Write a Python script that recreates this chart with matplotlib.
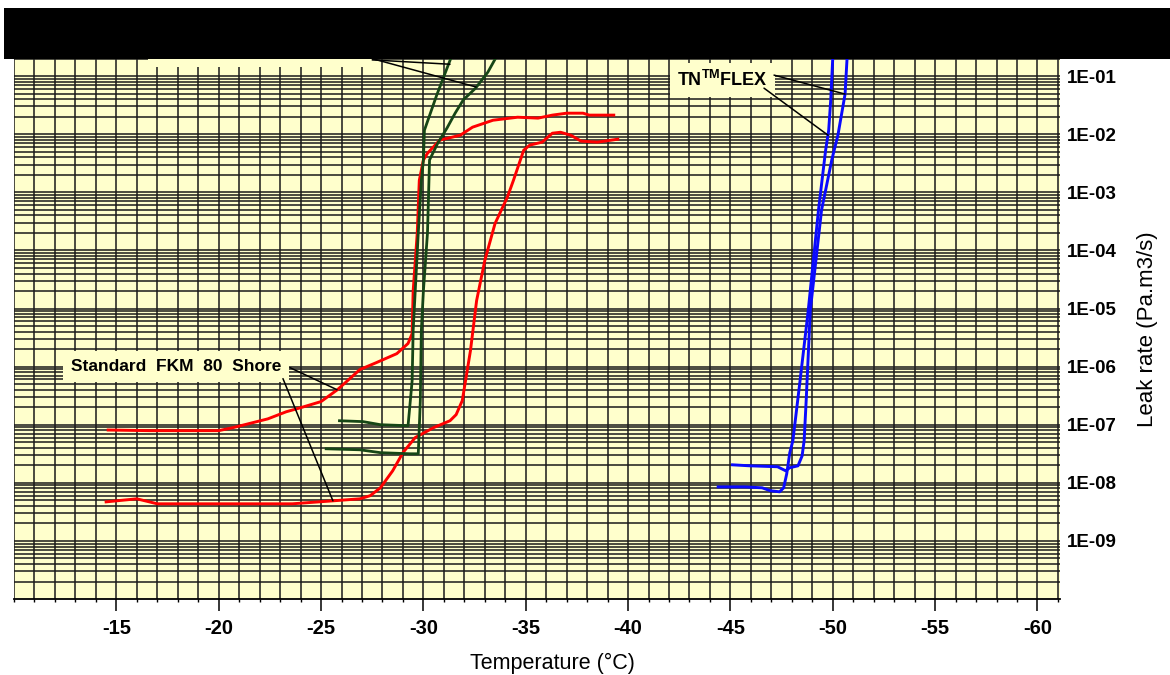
import numpy as np
import matplotlib.pyplot as plt
from matplotlib.patches import Rectangle
from matplotlib.ticker import MultipleLocator, LogLocator, NullFormatter

plt.rcParams['font.family'] = ['Liberation Sans', 'DejaVu Sans']
plt.rcParams['axes.unicode_minus'] = False
plt.rcParams['mathtext.fontset'] = 'custom'
plt.rcParams['mathtext.rm'] = 'Liberation Sans'
plt.rcParams['mathtext.bf'] = 'Liberation Sans:bold'

# standard FKM 80 shore - run starting near 1E-07
fkm_hi_temp = [-14.6, -16.6, -20.0, -20.7, -22.4, -23.3, -24.0, -25.0, -25.8, -26.9,
               -27.7, -28.7, -29.25, -29.45, -29.5, -29.7, -29.8, -30.0, -30.2, -30.8,
               -31.8, -32.4, -33.4, -34.6, -35.6, -36.3, -37.0, -37.8, -38.1, -39.3]
fkm_hi_leak = [8.1e-8, 7.9e-8, 7.9e-8, 8.9e-8, 1.26e-7, 1.67e-7, 1.96e-7, 2.5e-7, 4.0e-7, 8.9e-7,
               1.17e-6, 1.67e-6, 2.5e-6, 3.7e-6, 2.0e-5, 2.0e-4, 1.6e-3, 3.6e-3, 4.7e-3, 7.9e-3,
               9.6e-3, 1.32e-2, 1.74e-2, 1.96e-2, 1.89e-2, 2.13e-2, 2.3e-2, 2.3e-2, 2.13e-2, 2.13e-2]

# standard FKM 80 shore - run starting near 5E-09
fkm_lo_temp = [-14.5, -16.0, -17.0, -23.6, -25.6, -26.9, -27.4, -27.9, -28.5, -29.0,
               -29.6, -30.5, -31.3, -31.6, -31.9, -32.1, -32.3, -32.6, -33.0, -33.5,
               -34.1, -34.4, -34.9, -35.2, -35.8, -36.3, -36.7, -37.2, -37.7, -38.5, -39.5]
fkm_lo_leak = [4.7e-9, 5.3e-9, 4.35e-9, 4.35e-9, 4.9e-9, 5.3e-9, 6.0e-9, 8.2e-9, 1.61e-8, 3.3e-8,
               6.0e-8, 8.9e-8, 1.17e-7, 1.49e-7, 2.6e-7, 7.0e-7, 1.89e-6, 1.37e-5, 6.7e-5, 2.9e-4,
               8.2e-4, 1.61e-3, 5.3e-3, 6.5e-3, 7.3e-3, 1.04e-2, 1.08e-2, 9.6e-3, 7.6e-3, 7.3e-3, 8.2e-3]

# green pair (label hidden under the black bar)
green_hi_temp = [-25.9, -27.05, -27.9, -29.25, -29.45, -29.5, -29.75, -29.9, -30.0, -30.05,
                 -30.65, -31.4, -31.6]
green_hi_leak = [1.17e-7, 1.13e-7, 1.0e-7, 9.6e-8, 5.7e-7, 4.2e-6, 2.0e-4, 1.6e-3, 3.6e-3, 1.17e-2,
                 4.7e-2, 0.23, 0.34]
green_lo_temp = [-25.25, -26.9, -27.9, -29.35, -29.75, -29.85, -29.9, -30.0, -30.2, -30.3,
                 -30.7, -31.15, -31.55, -31.95, -32.55, -33.15, -33.55, -33.7]
green_lo_leak = [3.85e-8, 3.7e-8, 3.3e-8, 3.16e-8, 3.16e-8, 2.6e-7, 4.2e-6, 2.0e-5, 2.0e-4, 3.6e-3,
                 7.0e-3, 1.27e-2, 2.3e-2, 3.9e-2, 6.2e-2, 0.117, 0.21, 0.32]

# TN(TM)FLEX pair
tn_lo_temp = [-44.4, -45.7, -46.55, -46.95, -47.4, -47.6, -47.75, -47.9, -48.05, -48.4,
              -48.8, -49.3, -49.65, -49.8, -49.9, -50.0, -50.05]
tn_lo_leak = [8.5e-9, 8.5e-9, 8.2e-9, 7.3e-9, 7.0e-9, 8.2e-9, 1.43e-8, 3.3e-8, 5.3e-8, 5.7e-7,
              9.2e-6, 4.9e-4, 5.3e-3, 1.17e-2, 3.9e-2, 0.21, 0.34]
tn_hi_temp = [-45.1, -45.95, -47.3, -47.7, -47.9, -48.3, -48.5, -48.6, -48.7, -48.9,
              -49.45, -49.95, -50.25, -50.6, -50.7, -50.75]
tn_hi_leak = [2.04e-8, 1.96e-8, 1.89e-8, 1.61e-8, 1.82e-8, 1.96e-8, 2.9e-8, 5.3e-8, 2.6e-7, 9.2e-6,
              4.9e-4, 3.6e-3, 9.6e-3, 4.9e-2, 0.21, 0.34]

temp_ticks = [-15, -20, -25, -30, -35, -40, -45, -50, -55, -60]
temp_tick_labels = [str(t) for t in temp_ticks]
leak_ticks = [1e-9, 1e-8, 1e-7, 1e-6, 1e-5, 1e-4, 1e-3, 1e-2, 1e-1]
leak_tick_labels = ['1E-09', '1E-08', '1E-07', '1E-06', '1E-05', '1E-04', '1E-03', '1E-02', '1E-01']

BG = '#FFFFCC'
RED = '#FF0000'
GREEN = '#164616'
BLUE = '#0A0AFF'

W, H = 1170, 675
fig = plt.figure(figsize=(W / 100, H / 100), dpi=100)
ax = fig.add_axes([14 / W, 76 / H, 1046 / W, 581 / H])
ax.set_facecolor(BG)
ax.set_axisbelow(True)

ax.set_yscale('log')
ax.set_xlim(-10, -61.1)
ax.set_ylim(1e-10, 1)

# grid: every degree, log minor lines
ax.xaxis.set_minor_locator(MultipleLocator(1))
ax.yaxis.set_major_locator(LogLocator(base=10, numticks=20))
ax.yaxis.set_minor_locator(LogLocator(base=10, subs=np.arange(2, 10), numticks=20))
ax.yaxis.set_minor_formatter(NullFormatter())
ax.grid(which='both', axis='both', color='#1a1a1a', lw=1.1)

ax.set_xticks(temp_ticks)
ax.set_xticklabels(temp_tick_labels, fontweight='bold')
ax.tick_params(axis='x', which='major', length=8.5, width=1.1, pad=6, labelsize=14.5)
ax.tick_params(axis='x', which='minor', length=2.5, width=1.0)

ax.yaxis.tick_right()
ax.set_yticks(leak_ticks)
ax.set_yticklabels(leak_tick_labels, fontweight='bold')
ax.tick_params(axis='y', which='both', length=0, pad=5, labelsize=13.5)

for side in ['top', 'left', 'right']:
    ax.spines[side].set_visible(False)
ax.spines['bottom'].set_linewidth(1.3)

# curves
ax.plot(fkm_hi_temp, fkm_hi_leak, color=RED, lw=2.1)
ax.plot(fkm_lo_temp, fkm_lo_leak, color=RED, lw=2.1)
ax.plot(green_hi_temp, green_hi_leak, color=GREEN, lw=2.0)
ax.plot(green_lo_temp, green_lo_leak, color=GREEN, lw=2.0)
ax.plot(tn_lo_temp, tn_lo_leak, color=BLUE, lw=2.1)
ax.plot(tn_hi_temp, tn_hi_leak, color=BLUE, lw=2.1)

# hidden label box at the top left (only its lower edge shows)
ax.add_patch(Rectangle((-27.5, 0.143), 10.95, 0.857, facecolor=BG, edgecolor='none', zorder=1))

lead = dict(arrowstyle='-', color='black', lw=1.1, shrinkA=0, shrinkB=0)
ax.annotate('', xy=(-32.57, 6.5e-2), xytext=(-27.5, 0.2), arrowprops=lead)
ax.annotate('', xy=(-31.3, 0.16), xytext=(-27.5, 0.19), arrowprops=lead)

# Standard FKM label
ax.text(-17.9, 1.0e-6, 'Standard  FKM  80  Shore', ha='center', va='center',
        fontsize=12.5, fontweight='bold', zorder=3,
        bbox=dict(boxstyle='square,pad=0.45', facecolor=BG, edgecolor='none'))
ax.annotate('', xy=(-25.78, 4.0e-7), xytext=(-23.48, 9.6e-7), arrowprops=lead)
ax.annotate('', xy=(-25.58, 4.9e-9), xytext=(-23.14, 6.2e-7), arrowprops=lead)

# TN FLEX label
ax.text(-44.6, 8.5e-2, r'$\mathbf{TN^{TM}FLEX}$', ha='center', va='center',
        fontsize=13, zorder=3,
        bbox=dict(boxstyle='square,pad=0.4', facecolor=BG, edgecolor='none'))
ax.annotate('', xy=(-50.6, 4.9e-2), xytext=(-47.13, 0.104), arrowprops=lead)
ax.annotate('', xy=(-49.77, 9.6e-3), xytext=(-46.64, 6.2e-2), arrowprops=lead)

# axis titles
fig.text(552 / W, 1 - 663 / H, 'Temperature (°C)', ha='center', va='center', fontsize=15.5)
fig.text(1147 / W, 1 - 329 / H, 'Leak rate (Pa.m3/s)', ha='center', va='center',
         rotation=90, fontsize=16)

# black bar over the top
fig.patches.append(Rectangle((4 / W, 1 - 59 / H), 1166 / W, 51 / H,
                             transform=fig.transFigure, facecolor='black',
                             edgecolor='none', zorder=10))

fig.savefig('out.png', dpi=100)
